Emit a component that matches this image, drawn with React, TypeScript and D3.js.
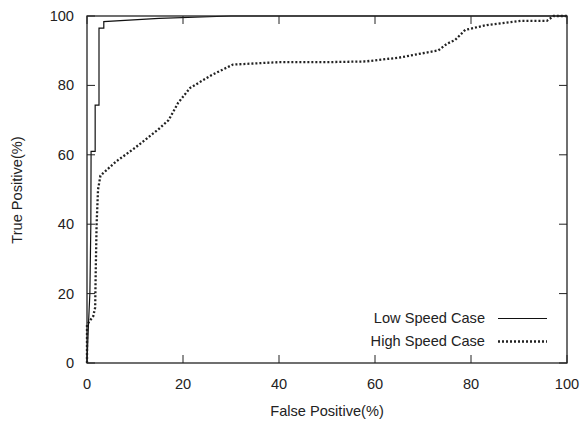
import React from "react";
import * as d3 from "d3";

const lowFP = [0, 0.3, 0.6, 0.8, 0.85, 1.7, 1.7, 2.5, 2.5, 3.5, 3.5, 15, 30, 100];
const lowTP = [0, 11, 20, 40, 61, 61, 74.3, 74.3, 96.5, 96.5, 98.4, 99.3, 100, 100];

const highFP = [0, 0, 0.5, 1.3, 1.7, 1.8, 2.0, 2.3, 2.8, 6, 10, 15, 17, 19, 21.5, 26, 30.4, 40, 50, 58, 65, 73.2, 75, 76.7, 78.8, 83.3, 90.3, 95.8, 97.2, 100];
const highTP = [0, 11, 12, 13.5, 16, 25, 40, 50, 54, 58, 62, 67.5, 70, 75, 79.3, 83, 86, 86.7, 86.7, 86.9, 88, 90.1, 92, 93.1, 96, 97.4, 98.6, 98.6, 100, 100];

const xTicks = [0, 20, 40, 60, 80, 100];
const yTicks = [0, 20, 40, 60, 80, 100];

const W = 581, H = 428;
const L = 87, R = 567, T = 16, B = 363;
const FONT = "'Liberation Sans', Arial, sans-serif";
const FS = 14.6;

export default function App() {
  const x = d3.scaleLinear().domain([0, 100]).range([L, R]);
  const y = d3.scaleLinear().domain([0, 100]).range([B, T]);
  const line = d3.line<[number, number]>().x(d => x(d[0])).y(d => y(d[1]));
  const low = line(lowFP.map((v, i) => [v, lowTP[i]] as [number, number])) || "";
  const high = line(highFP.map((v, i) => [v, highTP[i]] as [number, number])) || "";
  const tl = 8;
  return (
    <svg width={W} height={H} style={{ position: "absolute", left: 0, top: 0, background: "#fff" }}>
      <rect x={0} y={0} width={W} height={H} fill="#fff" />
      <path d={high} fill="none" stroke="#222" strokeWidth={2.3} strokeDasharray="2,2" />
      <path d={low} fill="none" stroke="#111" strokeWidth={1.2} />
      {xTicks.map(t => (
        <g key={"x" + t}>
          <line x1={x(t)} x2={x(t)} y1={B} y2={B - tl} stroke="#222" />
          <line x1={x(t)} x2={x(t)} y1={T} y2={T + tl} stroke="#222" />
          <text x={x(t)} y={389} textAnchor="middle" fontFamily={FONT} fontSize={FS} fill="#222">{t}</text>
        </g>
      ))}
      {yTicks.map(t => (
        <g key={"y" + t}>
          <line x1={L} x2={L + tl} y1={y(t)} y2={y(t)} stroke="#222" />
          <line x1={R} x2={R - tl} y1={y(t)} y2={y(t)} stroke="#222" />
          <text x={74} y={y(t) + 5} textAnchor="end" fontFamily={FONT} fontSize={FS} fill="#222">{t}</text>
        </g>
      ))}
      <rect x={L} y={T} width={R - L} height={B - T} fill="none" stroke="#222" strokeWidth={1.3} />
      <text x={485} y={323} textAnchor="end" fontFamily={FONT} fontSize={FS} fill="#222">Low Speed Case</text>
      <line x1={498} x2={547} y1={318.5} y2={318.5} stroke="#111" strokeWidth={1.2} />
      <text x={485} y={346} textAnchor="end" fontFamily={FONT} fontSize={FS} fill="#222">High Speed Case</text>
      <line x1={498} x2={547} y1={341.5} y2={341.5} stroke="#222" strokeWidth={2.3} strokeDasharray="2,2" />
      <text x={327} y={416} textAnchor="middle" fontFamily={FONT} fontSize={FS} fill="#222">False Positive(%)</text>
      <text transform={`translate(22,190) rotate(-90)`} textAnchor="middle" fontFamily={FONT} fontSize={FS} fill="#222">True Positive(%)</text>
    </svg>
  );
}
